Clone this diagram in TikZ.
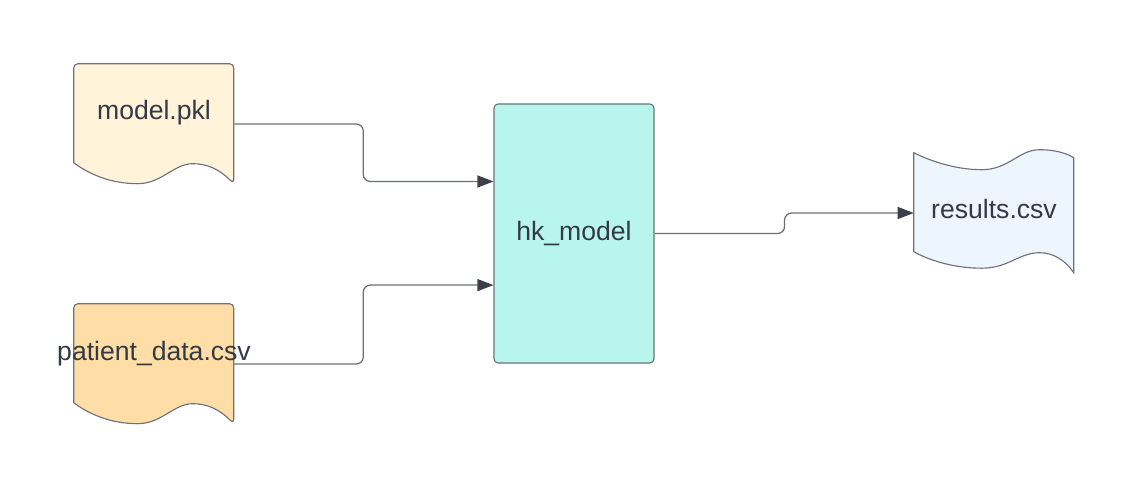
\documentclass[tikz,border=0pt]{standalone}
\usepackage{fontspec}
\setmainfont{Liberation Sans}
\usetikzlibrary{arrows.meta,backgrounds}
\definecolor{modelfill}{HTML}{FFF3DA}
\definecolor{patientfill}{HTML}{FFDDA6}
\definecolor{hkfill}{HTML}{B8F5EC}
\definecolor{resultfill}{HTML}{EDF5FF}
\definecolor{edgegray}{HTML}{6E7177}
\definecolor{linegray}{HTML}{6B6E75}
\definecolor{tipgray}{HTML}{3A3F4A}
\definecolor{txtgray}{HTML}{333A45}

\begin{document}
\begin{tikzpicture}[
    x=0.025cm, y=-0.025cm,
    label font/.style={font=\fontsize{18.9}{22}\selectfont, text=txtgray},
    doc/.style={label font, inner sep=0pt, minimum width=4cm, text height=1.4cm, text depth=1.6cm},
    tape/.style={label font, inner sep=0pt, minimum width=4cm, text height=1.625cm, text depth=1.375cm},
    block/.style={label font, draw=edgegray, line width=0.8pt, fill=hkfill, rounded corners=3pt,
        inner sep=0pt, minimum width=4cm, minimum height=6.475cm},
    outline/.style={draw=edgegray, line width=0.8pt},
    arrow/.style={-{Triangle[length=0.4cm, width=0.3cm, color=tipgray]}, draw=linegray,
        line width=0.9pt, rounded corners=5pt}
]
\useasboundingbox (0,0) rectangle (1125,479);

% Inputs
\node[doc] (model) at (154,124) {\makebox[4cm]{model.pkl}};
\node[doc] (patient) at (154,364) {\makebox[4cm]{patient\_data.csv}};

% Model
\node[block] (hk) at (574,233.5) {hk\_model};

% Output
\node[tape] (results) at (994,213) {results.csv};

% Shapes behind the labels
\begin{scope}[on background layer]
\foreach \n/\c in {model/modelfill, patient/patientfill}
    \path[outline, fill=\c, shift={(\n.north west)}]
        (0,99) [rounded corners=3pt] -- (0,0) -- (160,0) -- (160,120) [sharp corners]
        .. controls (145,105) and (133,100) .. (119,100)
        .. controls (100,100) and (88,120) .. (64,120)
        .. controls (38,120) and (16,111) .. (0,99) -- cycle;
\path[outline, fill=resultfill, shift={(results.north west)}]
    (0,0) .. controls (20,10) and (45,17) .. (68,17)
    .. controls (95,17) and (105,-3) .. (126,-3)
    .. controls (140,-3) and (152,0) .. (160,5)
    -- (160,120) .. controls (152,108) and (140,100) .. (126,100)
    .. controls (105,100) and (95,115.5) .. (68,115.5)
    .. controls (45,115.5) and (20,110) .. (0,99) -- cycle;
\end{scope}

% Connections
\draw[arrow] (model.east) -- ++(129,0) |- ([yshift=1.3cm]hk.west);
\draw[arrow] (patient.east) -- ++(129,0) |- ([yshift=-1.29cm]hk.west);
\draw[arrow] (hk.east) -- ++(130,0) |- (results.west);

\end{tikzpicture}
\end{document}
